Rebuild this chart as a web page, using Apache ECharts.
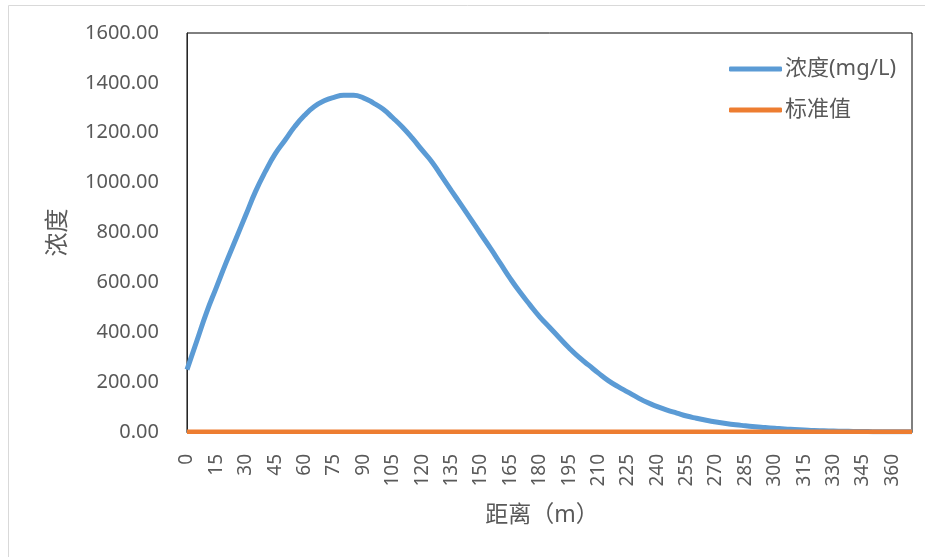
<!DOCTYPE html>
<html>
<head>
<meta charset="utf-8">
<script src="https://cdn.jsdelivr.net/npm/echarts@6/dist/echarts.min.js"></script>
<style>html,body{margin:0;padding:0;background:#fff;}#c{width:925px;height:557px;}</style>
</head>
<body>
<div id="c"></div>
<script>
var distances = [0,5,10,15,20,25,30,35,40,45,50,55,60,65,70,75,80,85,90,95,100,105,110,115,120,125,130,135,140,145,150,155,160,165,170,175,180,185,190,195,200,205,210,215,220,225,230,235,240,245,250,255,260,265,270,275,280,285,290,295,300,305,310,315,320,325,330,335,340,345,350,355,360,365,370];
var concentration = [250,365,480,580,680,775,870,965,1045,1115,1170,1225,1270,1305,1328,1342,1350,1350,1340,1320,1295,1260,1222,1178,1130,1083,1025,967,910,852,793,735,675,615,560,510,462,420,378,337,300,268,236,206,182,160,138,118,102,88,76,64,55,47,40,34,29,25,21,18,15,12,10,8,6,5,4,3,2.4,1.9,1.5,1.2,1.0,0.8,0.6];
var standardValue = distances.map(function(){ return 1; });
var seriesNames = ['浓度(mg/L)', '标准值'];
var xTitle = '距离（m）';
var yTitle = '浓度';

var chart = echarts.init(document.getElementById('c'));
var txt = '#595959';
var font = '"Noto Sans", "Noto Sans CJK SC", sans-serif';
chart.setOption({
  animation: false,
  textStyle: { fontFamily: font },
  graphic: [{
    type: 'rect', silent: true,
    shape: { x: 8.5, y: 5.5, width: 1000, height: 1000 },
    style: { fill: 'none', stroke: '#d9d9d9', lineWidth: 1 }
  }],
  grid: { left: 187, right: 13, top: 33, bottom: 125, show: true, borderColor: '#000', borderWidth: 1, backgroundColor: 'transparent' },
  legend: {
    orient: 'vertical', left: 724, top: 53, icon: 'roundRect', itemWidth: 53, itemHeight: 5, itemGap: 19,
    textStyle: { color: txt, fontSize: 22, fontFamily: font, padding: [0, 0, 0, -2] },
    data: seriesNames
  },
  xAxis: {
    type: 'category', boundaryGap: false, data: distances.map(String),
    name: xTitle, nameLocation: 'middle', nameGap: 72,
    nameTextStyle: { color: txt, fontSize: 23, fontFamily: font, padding: [0, 15, 0, 0] },
    axisLine: { show: true, lineStyle: { color: '#000' } },
    axisTick: { show: false },
    axisLabel: { interval: 2, rotate: 90, margin: 22, color: txt, fontSize: 19, fontFamily: font },
    splitLine: { show: false }
  },
  yAxis: {
    type: 'value', min: 0, max: 1600, interval: 200,
    name: yTitle, nameLocation: 'middle', nameGap: 117,
    nameTextStyle: { color: txt, fontSize: 24, fontFamily: font },
    axisLine: { show: true, lineStyle: { color: '#262626' } },
    axisTick: { show: false },
    axisLabel: { margin: 28, color: txt, fontSize: 20, fontFamily: font, formatter: function(v){ return v.toFixed(2); } },
    splitLine: { show: false }
  },
  series: [{
    name: seriesNames[0], type: 'line', data: concentration, smooth: true, showSymbol: false,
    lineStyle: { color: '#5B9BD5', width: 5 }, itemStyle: { color: '#5B9BD5' }
  }, {
    name: seriesNames[1], type: 'line', data: standardValue, showSymbol: false,
    lineStyle: { color: '#ED7D31', width: 4.5 }, itemStyle: { color: '#ED7D31' }
  }]
});
</script>
</body>
</html>
